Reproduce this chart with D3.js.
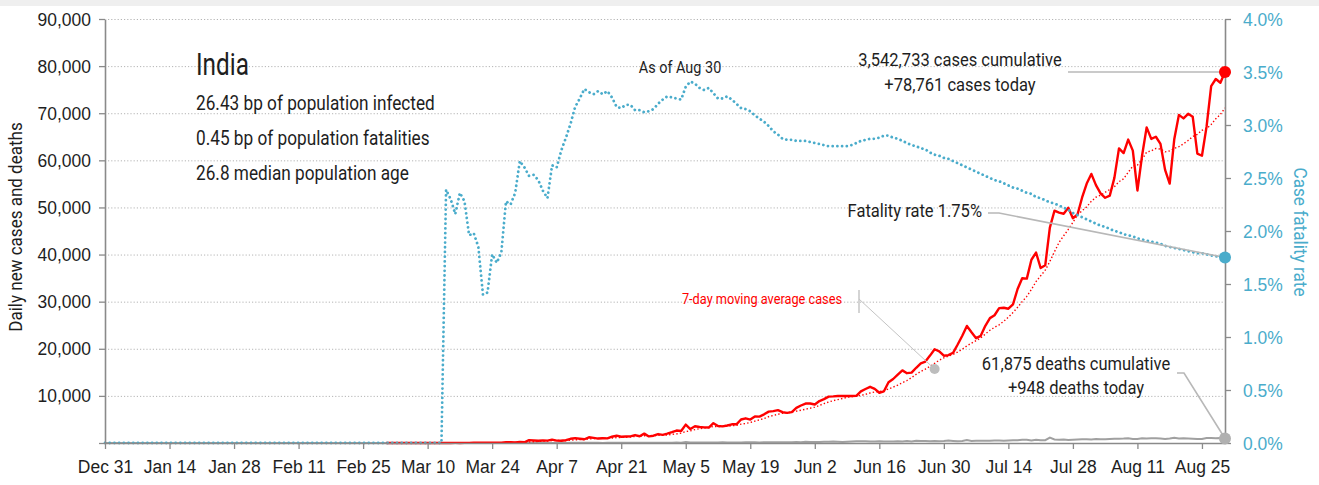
<!DOCTYPE html>
<html>
<head>
<meta charset="utf-8">
<script src="https://cdn.jsdelivr.net/npm/d3@7"></script>
<style>
  html, body { margin: 0; padding: 0; background: #fff; }
  svg { display: block; font-family: Roboto, "Liberation Sans", sans-serif; }
</style>
</head>
<body>
<svg id="chart" width="1319" height="485"></svg>
<script>
// ---- Data -------------------------------------------------------------
const country = "India";
const summaryLines = [
  "26.43 bp of population infected",
  "0.45 bp of population fatalities",
  "26.8 median population age"
];
const asOfLabel = "As of Aug 30";

const seriesFirstDay = "2019-12-31";
const seriesLastDay = "2020-08-30";

// Daily new cases, one value per day from Mar 1
const casesStart = "2020-03-01";
const dailyCases = [
  // Mar
  0, 2, 1, 22, 2, 1, 3, 5, 9, 15, 8, 10, 10, 23, 12, 19, 11, 23, 28, 63,
  76, 86, 82, 71, 88, 88, 149, 178, 106, 227, 146,
  // Apr
  601, 545, 478, 525, 505, 704, 508, 485, 591, 896, 1035, 909, 796, 1211, 1076,
  941, 1007, 991, 1334, 1553, 1336, 1383, 1409, 1684, 1429, 1990, 1396, 1543, 1897, 1718,
  // May
  1993, 2293, 2644, 2553, 3900, 2958, 3561, 3390, 3320, 3277, 4213, 3604, 3525, 3722, 3967,
  3970, 4987, 5242, 4970, 5611, 5609, 6088, 6654, 6767, 6977, 6535, 6387, 6566, 7466, 7964, 8380,
  // Jun
  8392, 8171, 8909, 9304, 9851, 9887, 9971, 9983, 9987, 9985, 9996, 10956, 11458, 11929, 11502,
  10667, 10974, 12881, 13586, 14516, 15413, 14821, 14933, 15968, 16922, 17296, 18552, 19906, 19459, 18522,
  // Jul
  18653, 19148, 20903, 22771, 24850, 23500, 22252, 22752, 24879, 26506, 27114, 28637, 28701, 28498, 29429,
  32695, 34956, 34884, 38902, 40425, 37148, 37724, 45720, 49310, 48916, 48661, 49931, 47704, 48513, 52123, 55079,
  // Aug
  57118, 54735, 52972, 52050, 52509, 56282, 62538, 61537, 64399, 62064, 53601, 60963, 66999, 64553, 65002,
  63490, 57981, 55079, 64531, 69652, 68898, 69878, 69239, 61408, 60975, 67151, 75760, 77266, 76472, 78761
];

// Daily new deaths, one value per day from Apr 1
const deathsStart = "2020-04-01";
const dailyDeaths = [
  // Apr
  3, 12, 10, 12, 13, 19, 14, 13, 17, 40, 30, 34, 35, 31, 38, 32, 23, 40, 31, 36,
  47, 50, 41, 37, 57, 48, 56, 62, 51, 73,
  // May
  75, 72, 83, 68, 195, 128, 89, 103, 95, 128, 97, 122, 134, 100, 100, 120, 120, 157, 134, 140,
  132, 148, 137, 147, 154, 146, 170, 175, 194, 175, 265,
  // Jun
  230, 204, 217, 260, 273, 294, 287, 206, 266, 331, 357, 396, 386, 311, 325, 380, 343, 336, 336, 375,
  306, 445, 312, 465, 418, 407, 384, 410, 380, 418,
  // Jul
  507, 434, 379, 442, 613, 425, 467, 482, 475, 487, 519, 551, 500, 553, 582, 606, 687, 671, 543, 681,
  587, 587, 1129, 740, 705, 757, 654, 705, 768, 775, 779,
  // Aug
  764, 853, 771, 803, 857, 904, 886, 933, 1007, 871, 834, 1007, 942, 1007, 996, 944, 876, 941, 1092, 977,
  983, 944, 912, 836, 848, 1059, 1063, 1021, 1057, 948
];

// Case fatality rate (%), one value per day from Mar 14
const cfrStart = "2020-03-14";
const cfrPct = [
  2.39, 2.30, 2.16, 2.36, 2.28, 1.96, 1.98, 1.85, 1.40, 1.42,
  1.78, 1.70, 1.80, 2.28, 2.25, 2.36, 2.66, 2.60, 2.52, 2.53,
  2.48, 2.38, 2.31, 2.62, 2.60, 2.76, 2.88, 3.01, 3.17, 3.25,
  3.34, 3.31, 3.29, 3.32, 3.29, 3.32, 3.26, 3.17, 3.16, 3.19,
  3.19, 3.14, 3.14, 3.12, 3.13, 3.15, 3.20, 3.24, 3.27, 3.26,
  3.25, 3.24, 3.36, 3.41, 3.39, 3.35, 3.33, 3.35, 3.30, 3.25,
  3.25, 3.27, 3.24, 3.20, 3.16, 3.15, 3.13, 3.09, 3.06, 3.03,
  2.99, 2.94, 2.91, 2.87, 2.86, 2.86, 2.85, 2.85, 2.85, 2.84,
  2.83, 2.82, 2.81, 2.80, 2.80, 2.80, 2.80, 2.80, 2.81, 2.83,
  2.85, 2.86, 2.87, 2.87, 2.88, 2.90, 2.90, 2.88, 2.87, 2.85,
  2.83, 2.81, 2.80, 2.78, 2.77, 2.74, 2.72, 2.71, 2.69, 2.68,
  2.66, 2.64, 2.62, 2.60, 2.58, 2.56, 2.54, 2.52, 2.50, 2.48,
  2.47, 2.45, 2.43, 2.41, 2.40, 2.38, 2.36, 2.35, 2.32, 2.31,
  2.29, 2.27, 2.26, 2.24, 2.22, 2.20, 2.17, 2.15, 2.13, 2.11,
  2.09, 2.07, 2.05, 2.04, 2.02, 2.00, 1.99, 1.97, 1.96, 1.95,
  1.93, 1.92, 1.91, 1.90, 1.89, 1.88, 1.86, 1.85, 1.84, 1.83,
  1.82, 1.81, 1.80, 1.79, 1.79, 1.78, 1.77, 1.76, 1.76, 1.75
];

const cumulativeCases = 3542733;
const cumulativeDeaths = 61875;

const xTickDates = [
  "2019-12-31", "2020-01-14", "2020-01-28", "2020-02-11", "2020-02-25", "2020-03-10",
  "2020-03-24", "2020-04-07", "2020-04-21", "2020-05-05", "2020-05-19", "2020-06-02",
  "2020-06-16", "2020-06-30", "2020-07-14", "2020-07-28", "2020-08-11", "2020-08-25"
];
const leftTicks = [0, 10000, 20000, 30000, 40000, 50000, 60000, 70000, 80000, 90000];
const rightTicks = [0, 0.5, 1.0, 1.5, 2.0, 2.5, 3.0, 3.5, 4.0];
const leftTitle = "Daily new cases and deaths";
const rightTitle = "Case fatality rate";
const avgLabel = "7-day moving average cases";
// point the moving-average note is tied to
const avgNoteAnchor = { date: "2020-06-28", value: 15700 };

// ---- Setup ------------------------------------------------------------
const parse = d3.utcParse("%Y-%m-%d");
const daily = (start, values) => {
  const t0 = parse(start);
  return values.map((v, i) => ({ date: d3.utcDay.offset(t0, i), value: v }));
};
const day0 = parse(seriesFirstDay);
const dayN = parse(seriesLastDay);

const casesPts = daily(casesStart, dailyCases);
const deathsPts = [{ date: day0, value: 0 },
  { date: d3.utcDay.offset(parse(deathsStart), -1), value: 0 }, ...daily(deathsStart, dailyDeaths)];
const cfrPts = [{ date: day0, value: 0 },
  { date: d3.utcDay.offset(parse(cfrStart), -1), value: 0 }, ...daily(cfrStart, cfrPct)];
// trailing 7-day mean of the daily cases
const avgPts = d3.range(6, dailyCases.length).map(i => ({
  date: casesPts[i].date,
  value: d3.mean(dailyCases.slice(i - 6, i + 1))
}));

const svg = d3.select("#chart");
const W = 1319, H = 485;
const m = { left: 105, right: 1225, top: 19, bottom: 443 };

const x = d3.scaleUtc().domain([day0, dayN]).range([m.left, m.right]);
const y = d3.scaleLinear().domain([0, 90000]).range([m.bottom, m.top]);
const y2 = d3.scaleLinear().domain([0, 4]).range([m.bottom, m.top]);

const BLUE = "#4aaccb";
const RED = "#ff0000";
const AXIS = "#8a8a8a";
const INK = "#1e1e1e";

// narrow the lettering horizontally around its anchor point
function condense(sel, s) {
  sel.each(function () {
    const t = d3.select(this);
    const tx = +t.attr("x") || 0, ty = +t.attr("y") || 0;
    const prev = t.attr("transform") || "";
    t.attr("x", null).attr("y", null)
      .attr("transform", `${prev} translate(${tx},${ty}) scale(${s},1)`);
  });
}
function label(px, py, str, size, opts = {}) {
  return svg.append("text")
    .attr("transform", `translate(${px},${py}) ${opts.rotate ? `rotate(${opts.rotate})` : ""} scale(${opts.s || 0.85},1)`)
    .attr("text-anchor", opts.anchor || "start")
    .attr("font-size", size)
    .attr("fill", opts.color || INK)
    .text(str);
}

// top band
svg.append("rect").attr("x", 0).attr("y", 0).attr("width", W).attr("height", 6).attr("fill", "#efefef");

// gridlines
svg.append("g").selectAll("line").data(leftTicks.filter(d => d > 0)).join("line")
  .attr("x1", m.left + 3).attr("x2", m.right - 2)
  .attr("y1", d => y(d) + 0.5).attr("y2", d => y(d) + 0.5)
  .attr("stroke", "#b4b4b4").attr("stroke-width", 1).attr("stroke-dasharray", "1.2,2");

// ---- Lines ------------------------------------------------------------
const line = (ys) => d3.line().x(d => x(d.date)).y(d => ys(d.value));

svg.append("path").datum(deathsPts).attr("d", line(y))
  .attr("fill", "none").attr("stroke", "#a0a0a0").attr("stroke-width", 2);

svg.append("path").datum(avgPts).attr("d", line(y))
  .attr("fill", "none").attr("stroke", RED).attr("stroke-width", 1.4)
  .attr("stroke-dasharray", "1.4,2.2");

svg.append("path").datum(casesPts).attr("d", line(y))
  .attr("fill", "none").attr("stroke", RED).attr("stroke-width", 2.4)
  .attr("stroke-linejoin", "round");

svg.append("path").datum(cfrPts).attr("d", line(y2))
  .attr("fill", "none").attr("stroke", BLUE).attr("stroke-width", 2.8)
  .attr("stroke-linecap", "round").attr("stroke-dasharray", "0.01,4.7");

// ---- Axes (drawn over the lines) ----------------------------------------
const fmt = d3.format(",");
const gL = svg.append("g").attr("transform", `translate(${m.left},0)`)
  .call(d3.axisLeft(y).tickValues(leftTicks).tickFormat(d => d === 0 ? "" : fmt(d))
    .tickSize(6).tickSizeOuter(0).tickPadding(8));
const gR = svg.append("g").attr("transform", `translate(${m.right},0)`)
  .call(d3.axisRight(y2).tickValues(rightTicks).tickFormat(d => d.toFixed(1) + "%")
    .tickSize(6).tickSizeOuter(0).tickPadding(12));
const gB = svg.append("g").attr("transform", `translate(0,${m.bottom})`)
  .call(d3.axisBottom(x).tickValues(xTickDates.map(parse)).tickFormat(d3.utcFormat("%b %-d"))
    .tickSize(6).tickSizeOuter(0).tickPadding(11));

[gL, gR, gB].forEach(g => {
  g.select(".domain").attr("stroke", AXIS).attr("stroke-width", 1.6);
  g.selectAll(".tick line").attr("stroke", AXIS).attr("stroke-width", 1.3);
  g.selectAll("text").attr("font-family", null).attr("font-size", 19).attr("fill", INK)
    .call(condense, 0.92);
});
gR.selectAll("text").attr("fill", BLUE);

label(22, 227, leftTitle, 18.5, { rotate: -90, anchor: "middle", s: 0.92 });
label(1294, 232, rightTitle, 18.5, { rotate: 90, anchor: "middle", s: 0.93, color: BLUE });

// ---- Summary text ------------------------------------------------------
label(196, 75, country, 32, { s: 0.76 });
summaryLines.forEach((t, i) => label(196, 110 + i * 35, t, 20.5, { s: 0.84 }));
label(680, 73, asOfLabel, 17, { anchor: "middle", s: 0.85 });

// ---- Annotations ------------------------------------------------------
const last = a => a[a.length - 1];
const lastCases = last(casesPts), lastDeaths = last(deathsPts), lastCfr = last(cfrPts);
const LEADER = "#b8b8b8";

// cases
svg.append("line").attr("x1", 1068).attr("x2", x(lastCases.date))
  .attr("y1", y(lastCases.value)).attr("y2", y(lastCases.value))
  .attr("stroke", LEADER).attr("stroke-width", 1.6);
label(960, 66, `${fmt(cumulativeCases)} cases cumulative`, 19, { anchor: "middle", s: 0.87 });
label(960, 91, `+${fmt(lastCases.value)} cases today`, 19, { anchor: "middle", s: 0.87 });
svg.append("circle").attr("cx", x(lastCases.date)).attr("cy", y(lastCases.value)).attr("r", 6).attr("fill", RED);

// fatality rate
svg.append("path")
  .attr("d", `M988,213 L999,213 L${x(lastCfr.date)},${y2(lastCfr.value)}`)
  .attr("fill", "none").attr("stroke", LEADER).attr("stroke-width", 1.6);
label(982, 217, `Fatality rate ${lastCfr.value.toFixed(2)}%`, 19, { anchor: "end", s: 0.87 });
svg.append("circle").attr("cx", x(lastCfr.date)).attr("cy", y2(lastCfr.value)).attr("r", 6).attr("fill", BLUE);

// deaths
svg.append("path")
  .attr("d", `M1177,373 L1184,373 L${x(lastDeaths.date)},${y(lastDeaths.value)}`)
  .attr("fill", "none").attr("stroke", LEADER).attr("stroke-width", 1.6);
label(1076, 370, `${fmt(cumulativeDeaths)} deaths cumulative`, 19, { anchor: "middle", s: 0.87 });
label(1076, 394, `+${fmt(lastDeaths.value)} deaths today`, 19, { anchor: "middle", s: 0.87 });
svg.append("circle").attr("cx", x(lastDeaths.date)).attr("cy", y(lastDeaths.value)).attr("r", 6).attr("fill", "#b0b0b0");

// moving average note
const ax = x(parse(avgNoteAnchor.date)), ay = y(avgNoteAnchor.value);
svg.append("line").attr("x1", 859).attr("x2", 859).attr("y1", 290).attr("y2", 313)
  .attr("stroke", "#b8b8b8").attr("stroke-width", 1.2);
svg.append("line").attr("x1", 859).attr("y1", 299).attr("x2", ax).attr("y2", ay)
  .attr("stroke", "#c4c4c4").attr("stroke-width", 1);
svg.append("circle").attr("cx", ax).attr("cy", ay).attr("r", 5).attr("fill", "#bdbdbd");
label(842, 304, avgLabel, 15, { anchor: "end", s: 0.85, color: RED });
</script>
</body>
</html>
